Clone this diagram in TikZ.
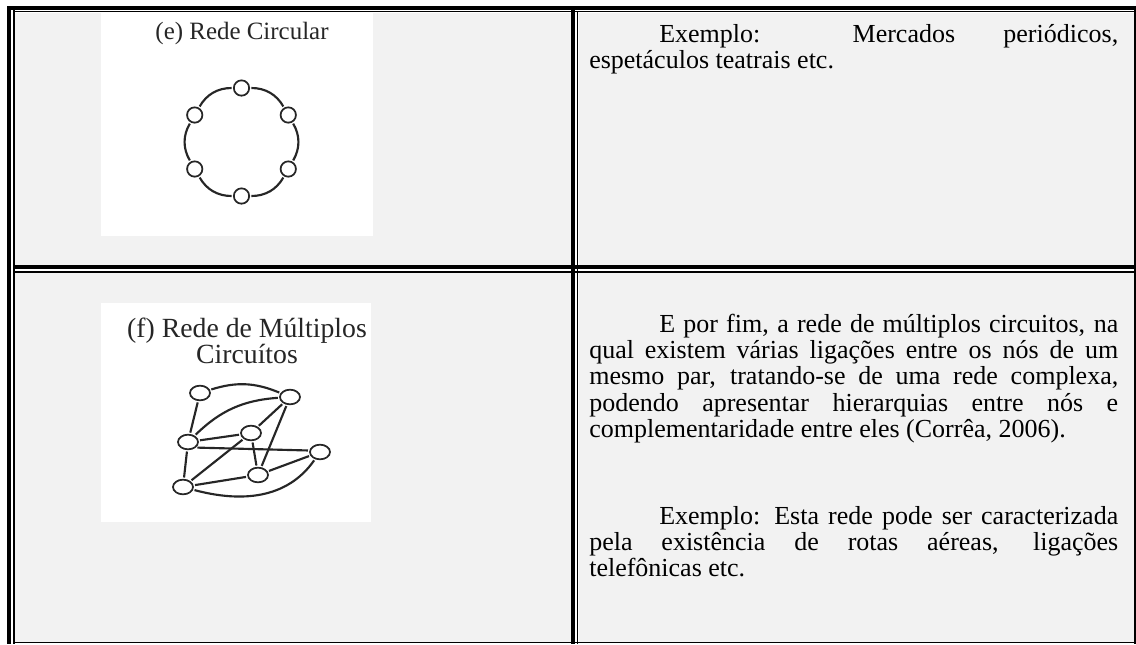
\documentclass[tikz,border=0pt]{standalone}
\usepackage{fontspec}
\setmainfont{Liberation Serif}
\usetikzlibrary{shapes.geometric}

\definecolor{cellgray}{HTML}{F2F2F2}
\definecolor{ink}{HTML}{262626}

\newcommand{\bodyfont}{\fontsize{19.5pt}{19.75pt}\selectfont\tolerance=10000\relax\hyphenpenalty=10000\relax\exhyphenpenalty=10000\relax}

\tikzset{
	thickrule/.style={line width=3pt},
	thinrule/.style={line width=1.1pt},
	ringnode/.style={draw=ink, circle, line width=1.3pt, minimum size=11.5pt, inner sep=0pt},
	netnode/.style={draw=ink, ellipse, line width=1.3pt, minimum width=15pt, minimum height=11pt, inner sep=0pt},
	link/.style={draw=ink, line width=1.6pt, shorten <=1pt, shorten >=1pt},
	bodytext/.style={anchor=base west, inner sep=0pt, text width=396.75pt, align=justify, font=\bodyfont}
}

\begin{document}
\begin{tikzpicture}[x=0.75pt, y=0.75pt]
	\useasboundingbox (0,0) rectangle (1136,-644);
	\fill[white] (0,0) rectangle (1136,-644);
	% cells
	\fill[cellgray] (15,-12.5) rectangle (571,-265);
	\fill[cellgray] (578.5,-12.5) rectangle (1133.5,-265);
	\fill[cellgray] (15,-273) rectangle (571,-641.5);
	\fill[cellgray] (578.5,-273) rectangle (1133.5,-641.5);
	\fill[white] (101,-12.5) rectangle (373,-236);
	\fill[white] (101,-303) rectangle (371,-522);
	% rules
	\draw[thinrule] (13,-11.7) -- (1134,-11.7);
	\draw[thinrule] (14,-10) -- (14,-644);
	\draw[thinrule] (577.7,-11) -- (577.7,-644);
	\draw[thinrule] (13,-272) -- (1134,-272);
	\draw[thinrule] (13,-642.5) -- (1136,-642.5);
	\draw[line width=1.5pt] (1134.8,-10) -- (1134.8,-644);
	\draw[thickrule] (7,-8) -- (1136,-8);
	\draw[thickrule] (9,-6) -- (9,-644);
	\draw[thickrule] (573,-10) -- (573,-644);
	\draw[thickrule] (13,-267) -- (1134,-267);

	% (e) ring
	\node[font=\fontsize{18.7pt}{19.5pt}\selectfont, text=ink, anchor=base] (titlering) at (242,-39) {(e) Rede Circular};
	\coordinate (ringc) at (241.5,-142);
	\foreach \i/\a in {1/90,2/30,3/-30,4/-90,5/-150,6/150}
		\node[ringnode] (r\i) at ([shift={(\a:54)}]ringc) {};
	\foreach \i/\j in {1/2,2/3,3/4,4/5,5/6,6/1}
		\draw[link] (r\i) to[bend left=30] (r\j);

	% (f) multiple circuits
	\node[font=\fontsize{20.8pt}{19.5pt}\selectfont, text=ink, align=center, anchor=base] (titlenet) at (247,-363) {(f) Rede de Múltiplos\\Circuítos};
	\node[netnode] (ma) at (200,-393) {};
	\node[netnode] (mb) at (290,-397) {};
	\node[netnode] (mc) at (188,-442) {};
	\node[netnode] (md) at (251,-433) {};
	\node[netnode] (me) at (320,-452) {};
	\node[netnode] (mf) at (258,-475) {};
	\node[netnode] (mg) at (183,-487) {};
	\draw[link] (ma) to[bend left=20] (mb);
	\draw[link] (mc) to[bend left=20] (mb);
	\draw[link] (mg) to[out=-15,in=-125] (me);
	\draw[link] (mc.-35) -- (me.172);
	\foreach \p/\q in {ma/mc, md/mb, mb/mf, mc/md, md/mf, md/mg, mc/mg, mg/mf, mf/me}
		\draw[link] (\p) -- (\q);

	% texts
	\node[bodytext] (circtext) at (589,-42) {\hspace*{52.5pt}Exemplo: Mercados periódicos,\linebreak espetáculos teatrais etc.};
	\node[bodytext] (nettext) at (589,-332) {\hspace*{52.5pt}E por fim, a rede de múltiplos circuitos, na\linebreak qual existem várias ligações entre os nós de um\linebreak mesmo par, tratando-se de uma rede complexa,\linebreak podendo apresentar hierarquias entre nós e\linebreak complementaridade entre eles (Corrêa, 2006).};
	\node[bodytext] (netexample) at (589,-524) {\hspace*{52.5pt}Exemplo: Esta rede pode ser caracterizada\linebreak pela existência de rotas aéreas, ligações\linebreak telefônicas etc.};
\end{tikzpicture}
\end{document}
